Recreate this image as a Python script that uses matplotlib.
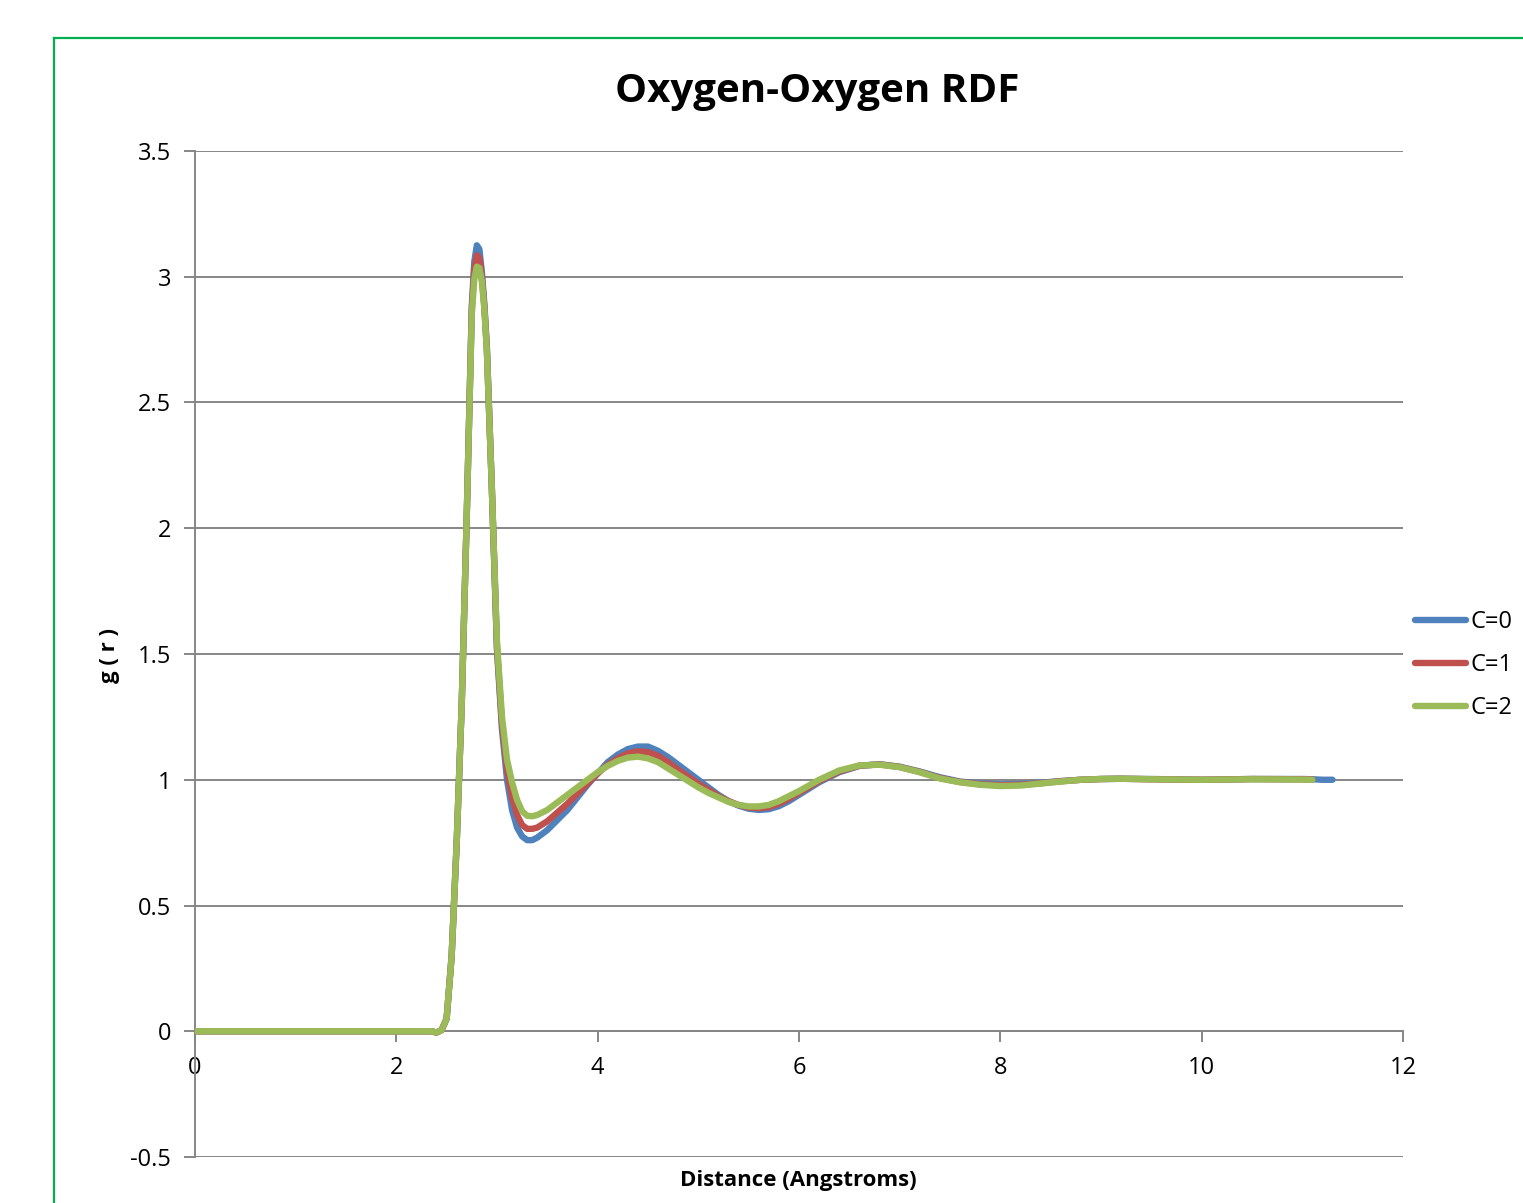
"""Oxygen-Oxygen radial distribution function, three charge settings."""

import matplotlib

matplotlib.use("Agg")

import matplotlib.pyplot as plt
from matplotlib.lines import Line2D

# distance grid (Angstroms), shared by all three series
r = [0, 0.5, 1.0, 1.5, 2.0, 2.3, 2.35, 2.4, 2.45, 2.5, 2.55, 2.6, 2.65, 2.7,
     2.75, 2.775, 2.8, 2.825, 2.85, 2.875, 2.9, 2.95, 3.0, 3.05, 3.1, 3.15,
     3.2, 3.25, 3.3, 3.35, 3.4, 3.5, 3.6, 3.7, 3.8, 3.9, 4.0, 4.1, 4.2, 4.3,
     4.4, 4.5, 4.6, 4.7, 4.8, 4.9, 5.0, 5.1, 5.2, 5.3, 5.4, 5.5, 5.6, 5.7,
     5.8, 5.9, 6.0, 6.2, 6.4, 6.6, 6.8, 7.0, 7.2, 7.4, 7.6, 7.8, 8.0, 8.2,
     8.4, 8.6, 8.8, 9.0, 9.2, 9.5, 10.0, 10.5, 11.0, 11.1]
r_c0 = r + [11.2, 11.3]

g_c0 = [0, 0, 0, 0, 0, 0, 0, -0.005, 0.005, 0.05, 0.3, 0.75, 1.3, 2.05,
        2.88, 3.06, 3.125, 3.11, 3.02, 2.89, 2.72, 2.15, 1.52, 1.2, 1.0, 0.88,
        0.81, 0.775, 0.76, 0.76, 0.77, 0.8, 0.84, 0.88, 0.93, 0.98, 1.025,
        1.07, 1.1, 1.122, 1.132, 1.132, 1.115, 1.09, 1.06, 1.03, 1.0, 0.97,
        0.94, 0.915, 0.897, 0.885, 0.88, 0.883, 0.895, 0.915, 0.94, 0.99,
        1.03, 1.055, 1.062, 1.052, 1.033, 1.01, 0.993, 0.985, 0.982, 0.983,
        0.988, 0.995, 1.0, 1.003, 1.004, 1.003, 1.0, 1.003, 1.003, 1.002,
        1.0, 1.0]
g_c1 = [0, 0, 0, 0, 0, 0, 0, -0.005, 0.005, 0.05, 0.3, 0.75, 1.3, 2.05,
        2.87, 3.03, 3.085, 3.075, 3.0, 2.88, 2.71, 2.15, 1.53, 1.22, 1.04,
        0.93, 0.86, 0.82, 0.805, 0.805, 0.81, 0.835, 0.87, 0.905, 0.945,
        0.985, 1.025, 1.06, 1.085, 1.105, 1.113, 1.11, 1.095, 1.07, 1.04,
        1.012, 0.985, 0.96, 0.935, 0.915, 0.9, 0.89, 0.887, 0.891, 0.905,
        0.925, 0.948, 0.995, 1.033, 1.056, 1.061, 1.051, 1.031, 1.007, 0.991,
        0.982, 0.978, 0.98, 0.986, 0.994, 1.0, 1.003, 1.004, 1.002, 1.0,
        1.003, 1.002, 1.001]
g_c2 = [0, 0, 0, 0, 0, 0, 0, -0.005, 0.005, 0.05, 0.3, 0.75, 1.3, 2.05,
        2.85, 2.99, 3.04, 3.035, 2.98, 2.87, 2.7, 2.15, 1.55, 1.25, 1.08,
        0.99, 0.92, 0.875, 0.857, 0.855, 0.86, 0.88, 0.91, 0.94, 0.97, 1.0,
        1.03, 1.055, 1.075, 1.088, 1.092, 1.085, 1.07, 1.045, 1.02, 0.995,
        0.97, 0.948, 0.93, 0.912, 0.9, 0.894, 0.894, 0.9, 0.915, 0.935, 0.955,
        1.0, 1.037, 1.057, 1.06, 1.05, 1.03, 1.005, 0.99, 0.98, 0.975, 0.977,
        0.985, 0.993, 1.0, 1.003, 1.004, 1.002, 1.0, 1.002, 1.001, 1.0]

series = [
    ("C=0", r_c0, g_c0, "#4F81BD"),
    ("C=1", r, g_c1, "#C0504D"),
    ("C=2", r, g_c2, "#9BBB59"),
]

y_ticks = [-0.5, 0, 0.5, 1, 1.5, 2, 2.5, 3, 3.5]
x_ticks = [0, 2, 4, 6, 8, 10, 12]

plt.rcParams["font.family"] = ["Open Sans", "DejaVu Sans"]

fig = plt.figure(figsize=(15.23, 12.03), dpi=100)
ax = fig.add_axes([0.128, 0.0382, 0.7932, 0.8363])

grid_c = "#868686"
for label, xs, ys, col in series:
    ax.plot(xs, ys, color=col, linewidth=4.6, solid_capstyle="round",
            solid_joinstyle="round", label=label, zorder=3)

ax.set_xlim(0, 12)
ax.set_ylim(-0.5, 3.5)
ax.set_yticks(y_ticks)
ax.set_yticklabels([f"{v:g}" for v in y_ticks])
ax.set_xticks(x_ticks)
ax.set_xticklabels([str(v) for v in x_ticks])
ax.yaxis.grid(True, color=grid_c, linewidth=1.4)
ax.set_axisbelow(True)

for side in ("top", "right"):
    ax.spines[side].set_visible(False)
ax.spines["bottom"].set_position(("data", 0))
ax.spines["bottom"].set_color(grid_c)
ax.spines["left"].set_color(grid_c)
ax.spines["bottom"].set_linewidth(1.4)
ax.spines["left"].set_linewidth(1.4)
ax.tick_params(axis="both", colors=grid_c, length=8, width=1.4,
               labelsize=17, labelcolor="black")
ax.tick_params(axis="y", pad=9)
ax.tick_params(axis="x", pad=10)

# title sits a bit right of the plot centre, as in the chart area of the original
ax.set_title("Oxygen-Oxygen RDF", fontsize=29, fontweight="bold", pad=35, x=0.515)
fig.text(0.524, 0.019, "Distance (Angstroms)", ha="center", va="center",
         fontsize=16, fontweight="bold")
fig.text(0.072, 0.455, "g ( r )", ha="center", va="center", rotation=90,
         fontsize=16, fontweight="bold")

ax.legend(loc="center left", bbox_to_anchor=(1.0, 0.489), frameon=False,
          fontsize=17, handlelength=2.15, handletextpad=0.2, labelspacing=0.8,
          borderaxespad=0.1)

# green chart-area border (cropped on the right and bottom)
border = "#00B050"
fig.add_artist(Line2D([54 / 1523, 1.0], [1 - 38 / 1203] * 2, color=border,
                      linewidth=1.6, transform=fig.transFigure))
fig.add_artist(Line2D([54 / 1523] * 2, [0.0, 1 - 38 / 1203], color=border,
                      linewidth=1.6, transform=fig.transFigure))

fig.savefig("out.png", dpi=100)
plt.close(fig)
